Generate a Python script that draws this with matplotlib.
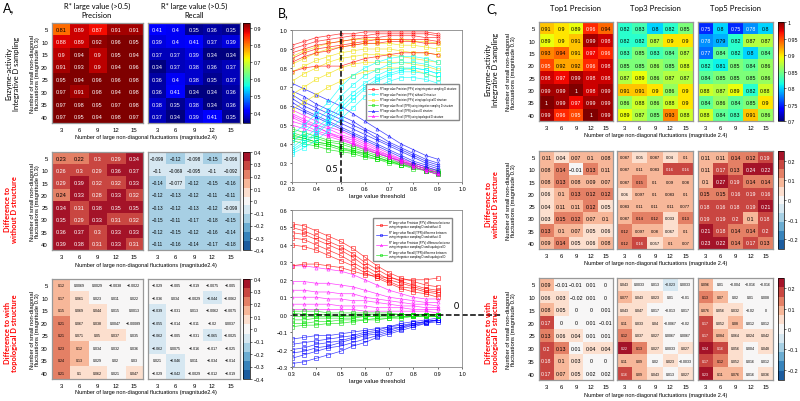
import numpy as np
import matplotlib
matplotlib.use("Agg")
import matplotlib.pyplot as plt
from matplotlib.colors import ListedColormap, Normalize
from matplotlib.lines import Line2D
import seaborn as sns

# ---------------- data ----------------
rows = [5, 10, 15, 20, 25, 30, 35, 40]
cols = [3, 6, 9, 12, 15]

# panel A, integrative D sampling
a_prec = [[0.81, 0.89, 0.87, 0.91, 0.91],
          [0.88, 0.89, 0.92, 0.96, 0.95],
          [0.9, 0.94, 0.9, 0.95, 0.94],
          [0.91, 0.93, 0.9, 0.94, 0.96],
          [0.95, 0.94, 0.96, 0.96, 0.98],
          [0.97, 0.91, 0.98, 0.94, 0.98],
          [0.97, 0.98, 0.95, 0.97, 0.98],
          [0.97, 0.95, 0.94, 0.98, 0.97]]
a_rec = [[0.41, 0.4, 0.35, 0.36, 0.35],
         [0.39, 0.4, 0.41, 0.37, 0.39],
         [0.37, 0.37, 0.39, 0.34, 0.34],
         [0.34, 0.37, 0.38, 0.36, 0.37],
         [0.36, 0.4, 0.38, 0.35, 0.37],
         [0.36, 0.41, 0.34, 0.34, 0.36],
         [0.38, 0.35, 0.38, 0.34, 0.36],
         [0.37, 0.34, 0.39, 0.41, 0.35]]
# difference to without D structure
a_prec_wo = [[0.23, 0.22, 0.3, 0.29, 0.34],
             [0.26, 0.3, 0.29, 0.36, 0.37],
             [0.29, 0.39, 0.32, 0.32, 0.33],
             [0.24, 0.33, 0.28, 0.33, 0.32],
             [0.34, 0.31, 0.38, 0.35, 0.35],
             [0.35, 0.29, 0.33, 0.31, 0.32],
             [0.36, 0.37, 0.3, 0.33, 0.33],
             [0.39, 0.38, 0.31, 0.33, 0.31]]
a_rec_wo = [[-0.099, -0.12, -0.098, -0.15, -0.096],
            [-0.1, -0.069, -0.095, -0.1, -0.092],
            [-0.14, -0.077, -0.12, -0.15, -0.16],
            [-0.12, -0.13, -0.12, -0.11, -0.11],
            [-0.13, -0.12, -0.13, -0.12, -0.099],
            [-0.15, -0.11, -0.17, -0.18, -0.15],
            [-0.12, -0.15, -0.12, -0.16, -0.14],
            [-0.11, -0.16, -0.14, -0.17, -0.18]]
# difference to topological D structure
a_prec_topo = [[0.12, 0.0069, 0.0029, -0.0038, -0.0022],
               [0.17, 0.061, 0.023, 0.011, 0.022],
               [0.15, 0.069, 0.044, 0.015, 0.0013],
               [0.21, 0.067, 0.038, 0.0047, -0.00089],
               [0.21, 0.071, 0.05, 0.037, 0.035],
               [0.23, 0.12, 0.034, 0.032, 0.036],
               [0.24, 0.13, 0.029, 0.02, 0.03],
               [0.21, 0.1, 0.062, 0.021, 0.047]]
a_rec_topo = [[-0.029, -0.005, -0.019, -0.0075, -0.005],
              [-0.036, 0.034, -0.0029, -0.044, -0.0062],
              [-0.039, -0.031, 0.013, -0.0062, -0.0075],
              [-0.055, -0.014, -0.011, -0.02, 0.0037],
              [-0.062, -0.005, -0.031, -0.065, -0.0025],
              [-0.062, 0.0075, -0.016, -0.017, -0.025],
              [0.021, -0.046, 0.011, -0.034, -0.014],
              [-0.029, -0.042, -0.0029, -0.012, -0.019]]

# panel C, top-k precision
c_top1 = [[0.91, 0.9, 0.89, 0.96, 0.94],
          [0.89, 0.9, 0.91, 0.99, 0.98],
          [0.93, 0.94, 0.91, 0.97, 0.96],
          [0.95, 0.92, 0.92, 0.96, 0.98],
          [0.98, 0.97, 0.99, 0.98, 0.98],
          [0.99, 0.99, 1, 0.98, 0.99],
          [1, 0.99, 0.97, 0.99, 0.99],
          [0.99, 0.96, 0.95, 1, 0.99]]
c_top3 = [[0.82, 0.83, 0.8, 0.82, 0.85],
          [0.82, 0.82, 0.87, 0.9, 0.9],
          [0.83, 0.85, 0.83, 0.84, 0.87],
          [0.85, 0.85, 0.86, 0.85, 0.88],
          [0.87, 0.89, 0.86, 0.87, 0.87],
          [0.91, 0.91, 0.9, 0.86, 0.9],
          [0.86, 0.88, 0.86, 0.88, 0.9],
          [0.89, 0.87, 0.85, 0.93, 0.88]]
c_top5 = [[0.75, 0.8, 0.75, 0.78, 0.8],
          [0.78, 0.79, 0.82, 0.87, 0.87],
          [0.77, 0.84, 0.82, 0.8, 0.84],
          [0.82, 0.81, 0.85, 0.84, 0.86],
          [0.84, 0.85, 0.85, 0.85, 0.86],
          [0.88, 0.87, 0.89, 0.82, 0.88],
          [0.84, 0.86, 0.84, 0.85, 0.9],
          [0.88, 0.84, 0.83, 0.91, 0.86]]
c_top1_wo = [[0.11, 0.04, 0.07, 0.1, 0.08],
             [0.08, 0.14, -0.01, 0.13, 0.11],
             [0.08, 0.13, 0.08, 0.09, 0.07],
             [0.06, 0.1, 0.13, 0.12, 0.12],
             [0.04, 0.11, 0.11, 0.12, 0.05],
             [0.03, 0.15, 0.12, 0.07, 0.1],
             [0.13, 0.1, 0.07, 0.05, 0.06],
             [0.09, 0.14, 0.05, 0.06, 0.08]]
c_top3_wo = [[0.087, 0.05, 0.087, 0.04, 0.1],
             [0.087, 0.11, 0.083, 0.16, 0.16],
             [0.087, 0.15, 0.1, 0.09, 0.08],
             [0.06, 0.097, 0.1, 0.083, 0.1],
             [0.083, 0.11, 0.11, 0.11, 0.077],
             [0.087, 0.14, 0.12, 0.033, 0.13],
             [0.12, 0.097, 0.08, 0.067, 0.1],
             [0.12, 0.16, 0.057, 0.1, 0.07]]
c_top5_wo = [[0.11, 0.11, 0.14, 0.12, 0.19],
             [0.11, 0.17, 0.13, 0.24, 0.22],
             [0.1, 0.27, 0.19, 0.14, 0.14],
             [0.15, 0.15, 0.16, 0.19, 0.16],
             [0.18, 0.16, 0.18, 0.19, 0.21],
             [0.19, 0.19, 0.2, 0.1, 0.18],
             [0.21, 0.18, 0.14, 0.14, 0.2],
             [0.23, 0.22, 0.14, 0.17, 0.13]]
c_top1_topo = [[0.09, -0.01, -0.01, 0.01, 0],
               [0.06, 0.03, -0.02, 0.01, 0],
               [0.08, 0.05, 0, 0, 0.01],
               [0.17, 0, 0, 0.01, -0.01],
               [0.13, 0.06, 0.04, 0.01, 0.01],
               [0.2, 0.13, 0.01, 0.04, 0.04],
               [0.18, 0.1, 0.03, 0, 0],
               [0.17, 0.07, 0.05, 0.02, 0.02]]
c_top3_topo = [[0.043, 0.0033, 0.013, -0.023, 0.0033],
               [0.077, 0.043, 0.023, 0.01, -0.01],
               [0.043, 0.047, 0.017, -0.013, 0.017],
               [0.11, 0.033, 0.04, -0.0067, -0.02],
               [0.12, 0.037, 0.027, 0.0067, 0.0067],
               [0.22, 0.13, 0.027, 0.0033, 0.027],
               [0.11, 0.09, 0.02, 0.023, -0.0033],
               [0.16, 0.09, 0.043, 0.013, 0.027]]
c_top5_topo = [[0.096, 0.01, -0.004, -0.016, -0.016],
               [0.13, 0.07, 0.02, 0.01, 0.008],
               [0.076, 0.056, 0.032, -0.02, 0],
               [0.17, 0.052, 0.08, 0.012, 0.012],
               [0.17, 0.084, 0.064, 0.024, 0.042],
               [0.24, 0.16, 0.056, 0.004, 0.048],
               [0.17, 0.12, 0.052, 0.016, 0.012],
               [0.23, 0.11, 0.076, 0.016, 0.036]]

# panel B, representative curves vs large value threshold
thr = [0.3, 0.35, 0.4, 0.45, 0.5, 0.55, 0.6, 0.65, 0.7, 0.75, 0.8, 0.85, 0.9]

ppv_int = [[0.92, 0.94, 0.96, 0.97, 0.98, 0.98, 0.99, 0.99, 0.99, 0.99, 0.99, 0.99, 0.98],
           [0.90, 0.92, 0.94, 0.95, 0.96, 0.97, 0.97, 0.98, 0.98, 0.98, 0.98, 0.98, 0.97],
           [0.88, 0.90, 0.92, 0.93, 0.94, 0.95, 0.96, 0.96, 0.97, 0.97, 0.97, 0.96, 0.96],
           [0.85, 0.88, 0.90, 0.91, 0.92, 0.93, 0.94, 0.95, 0.95, 0.95, 0.95, 0.95, 0.94],
           [0.83, 0.86, 0.88, 0.89, 0.91, 0.92, 0.93, 0.93, 0.94, 0.94, 0.94, 0.93, 0.93],
           [0.78, 0.80, 0.81, 0.81, 0.81, 0.83, 0.85, 0.86, 0.87, 0.88, 0.88, 0.88, 0.87]]
ppv_wo = [[0.45, 0.50, 0.56, 0.62, 0.70, 0.76, 0.80, 0.83, 0.85, 0.86, 0.86, 0.85, 0.83],
          [0.41, 0.46, 0.52, 0.58, 0.65, 0.71, 0.76, 0.79, 0.82, 0.83, 0.83, 0.82, 0.80],
          [0.38, 0.43, 0.48, 0.54, 0.61, 0.67, 0.72, 0.76, 0.79, 0.80, 0.80, 0.79, 0.77],
          [0.36, 0.40, 0.45, 0.51, 0.57, 0.63, 0.69, 0.73, 0.76, 0.78, 0.78, 0.77, 0.75],
          [0.35, 0.38, 0.42, 0.47, 0.53, 0.59, 0.65, 0.70, 0.73, 0.75, 0.75, 0.74, 0.72],
          [0.37, 0.41, 0.46, 0.52, 0.59, 0.65, 0.70, 0.74, 0.77, 0.79, 0.80, 0.79, 0.77]]
ppv_topo = [[0.86, 0.89, 0.91, 0.93, 0.94, 0.95, 0.95, 0.95, 0.95, 0.95, 0.94, 0.94, 0.93],
            [0.82, 0.85, 0.88, 0.90, 0.91, 0.92, 0.93, 0.93, 0.93, 0.92, 0.92, 0.91, 0.90],
            [0.78, 0.81, 0.84, 0.86, 0.88, 0.89, 0.90, 0.90, 0.90, 0.89, 0.88, 0.88, 0.87],
            [0.73, 0.77, 0.80, 0.83, 0.85, 0.86, 0.87, 0.87, 0.87, 0.86, 0.85, 0.84, 0.83],
            [0.66, 0.70, 0.74, 0.77, 0.80, 0.82, 0.83, 0.83, 0.83, 0.83, 0.82, 0.81, 0.79],
            [0.58, 0.62, 0.66, 0.70, 0.73, 0.76, 0.78, 0.79, 0.80, 0.80, 0.79, 0.77, 0.75]]
tpr_int = [[0.48, 0.46, 0.44, 0.42, 0.41, 0.39, 0.37, 0.35, 0.33, 0.31, 0.29, 0.27, 0.26],
           [0.46, 0.44, 0.43, 0.41, 0.40, 0.38, 0.36, 0.34, 0.32, 0.30, 0.29, 0.27, 0.25],
           [0.45, 0.43, 0.41, 0.40, 0.38, 0.37, 0.35, 0.33, 0.31, 0.30, 0.28, 0.26, 0.25],
           [0.43, 0.42, 0.40, 0.39, 0.37, 0.36, 0.34, 0.32, 0.31, 0.29, 0.28, 0.26, 0.24],
           [0.42, 0.40, 0.39, 0.37, 0.36, 0.35, 0.33, 0.32, 0.30, 0.29, 0.27, 0.26, 0.24],
           [0.44, 0.43, 0.41, 0.40, 0.38, 0.36, 0.35, 0.33, 0.31, 0.29, 0.28, 0.26, 0.25]]
tpr_wo = [[0.72, 0.69, 0.66, 0.63, 0.60, 0.56, 0.52, 0.48, 0.44, 0.40, 0.37, 0.34, 0.32],
          [0.68, 0.65, 0.61, 0.58, 0.55, 0.52, 0.48, 0.45, 0.41, 0.38, 0.35, 0.32, 0.30],
          [0.66, 0.62, 0.59, 0.56, 0.53, 0.50, 0.47, 0.43, 0.40, 0.37, 0.34, 0.31, 0.29],
          [0.64, 0.60, 0.57, 0.54, 0.51, 0.48, 0.45, 0.42, 0.39, 0.36, 0.33, 0.30, 0.28],
          [0.62, 0.58, 0.55, 0.52, 0.49, 0.46, 0.43, 0.40, 0.37, 0.34, 0.31, 0.29, 0.27],
          [0.60, 0.57, 0.54, 0.51, 0.48, 0.45, 0.42, 0.39, 0.36, 0.33, 0.30, 0.28, 0.26]]
tpr_topo = [[0.58, 0.55, 0.52, 0.49, 0.47, 0.44, 0.41, 0.38, 0.35, 0.32, 0.30, 0.28, 0.26],
            [0.56, 0.53, 0.50, 0.48, 0.45, 0.43, 0.40, 0.37, 0.34, 0.32, 0.29, 0.27, 0.25],
            [0.54, 0.51, 0.49, 0.46, 0.44, 0.42, 0.39, 0.36, 0.34, 0.31, 0.29, 0.27, 0.25],
            [0.52, 0.50, 0.47, 0.45, 0.43, 0.41, 0.38, 0.36, 0.33, 0.31, 0.28, 0.26, 0.24],
            [0.50, 0.48, 0.46, 0.44, 0.42, 0.40, 0.37, 0.35, 0.33, 0.30, 0.28, 0.26, 0.24],
            [0.55, 0.52, 0.49, 0.46, 0.43, 0.40, 0.38, 0.35, 0.33, 0.31, 0.29, 0.27, 0.25]]

dppv_wo = [[0.52, 0.51, 0.48, 0.45, 0.42, 0.38, 0.33, 0.28, 0.24, 0.21, 0.19, 0.17, 0.16],
           [0.50, 0.48, 0.45, 0.42, 0.39, 0.35, 0.30, 0.26, 0.22, 0.19, 0.17, 0.15, 0.14],
           [0.47, 0.46, 0.43, 0.40, 0.37, 0.33, 0.28, 0.24, 0.20, 0.18, 0.16, 0.14, 0.13],
           [0.44, 0.43, 0.40, 0.37, 0.34, 0.30, 0.26, 0.22, 0.19, 0.16, 0.15, 0.13, 0.12],
           [0.40, 0.39, 0.37, 0.34, 0.31, 0.28, 0.24, 0.21, 0.18, 0.15, 0.13, 0.12, 0.10],
           [0.28, 0.29, 0.29, 0.28, 0.27, 0.25, 0.23, 0.22, 0.21, 0.20, 0.20, 0.20, 0.21]]
dtpr_wo = [[-0.14, -0.13, -0.12, -0.12, -0.11, -0.10, -0.09, -0.08, -0.07, -0.05, -0.04, -0.03, -0.02],
           [-0.17, -0.16, -0.15, -0.14, -0.13, -0.12, -0.10, -0.09, -0.07, -0.06, -0.05, -0.04, -0.03],
           [-0.20, -0.19, -0.17, -0.16, -0.15, -0.13, -0.11, -0.10, -0.08, -0.07, -0.05, -0.04, -0.03],
           [-0.22, -0.21, -0.19, -0.18, -0.16, -0.14, -0.12, -0.11, -0.09, -0.07, -0.06, -0.04, -0.03],
           [-0.25, -0.23, -0.21, -0.19, -0.18, -0.16, -0.14, -0.12, -0.10, -0.08, -0.06, -0.05, -0.03],
           [-0.28, -0.27, -0.25, -0.23, -0.21, -0.18, -0.16, -0.13, -0.11, -0.09, -0.07, -0.05, -0.04]]
dppv_topo = [[0.28, 0.28, 0.27, 0.26, 0.25, 0.23, 0.20, 0.17, 0.14, 0.12, 0.10, 0.09, 0.09],
             [0.19, 0.19, 0.18, 0.18, 0.17, 0.16, 0.14, 0.12, 0.10, 0.09, 0.08, 0.07, 0.07],
             [0.14, 0.14, 0.13, 0.13, 0.12, 0.12, 0.10, 0.09, 0.08, 0.07, 0.06, 0.06, 0.05],
             [0.10, 0.10, 0.10, 0.09, 0.09, 0.08, 0.08, 0.07, 0.06, 0.05, 0.05, 0.04, 0.04],
             [0.06, 0.06, 0.06, 0.06, 0.05, 0.05, 0.05, 0.04, 0.04, 0.04, 0.03, 0.03, 0.03],
             [0.03, 0.03, 0.03, 0.03, 0.03, 0.03, 0.02, 0.02, 0.02, 0.02, 0.02, 0.02, 0.01]]
dtpr_topo = [[0.02, 0.02, 0.02, 0.01, 0.01, 0.01, 0.01, 0.01, 0.01, 0.00, 0.00, 0.00, 0.00],
             [-0.01, -0.01, -0.01, -0.01, -0.01, 0.00, 0.00, 0.00, 0.00, 0.00, 0.00, 0.00, 0.00],
             [-0.03, -0.03, -0.02, -0.02, -0.02, -0.02, -0.01, -0.01, -0.01, -0.01, -0.01, 0.00, -0.01],
             [-0.05, -0.05, -0.04, -0.04, -0.03, -0.03, -0.03, -0.02, -0.02, -0.01, -0.01, -0.01, -0.01],
             [-0.07, -0.06, -0.06, -0.05, -0.05, -0.04, -0.03, -0.03, -0.02, -0.02, -0.01, -0.01, -0.01],
             [0.01, 0.00, 0.00, 0.00, -0.01, -0.01, -0.01, -0.01, 0.00, 0.00, 0.00, 0.00, 0.00]]

# ---------------- figure ----------------
W, H = 800, 402
plt.rcParams['font.family'] = ['Liberation Sans', 'DejaVu Sans']
plt.rcParams['axes.unicode_minus'] = True
fig = plt.figure(figsize=(8, 4.02), dpi=100)
TITLE_FONT = ['Lato', 'DejaVu Sans']


def px_axes(x0, y0, x1, y1):
    # axes from pixel box (top-left origin)
    return fig.add_axes([x0 / W, 1 - y1 / H, (x1 - x0) / W, (y1 - y0) / H])


def px_text(x, y, s, **kw):
    fig.text(x / W, 1 - y / H, s, **kw)


def num(v):
    return '{:g}'.format(v).replace('-', '\u2212')


jet = plt.get_cmap('jet')
div = ListedColormap(sns.color_palette('RdBu_r', 11))


def heat(box, data, cmap, norm, fs, ylabels=True):
    ax = px_axes(*box)
    data = np.array(data)
    ax.imshow(data, cmap=cmap, norm=norm, aspect='auto', interpolation='nearest')
    for i in range(data.shape[0]):
        for j in range(data.shape[1]):
            c = cmap(norm(data[i, j]))
            lum = 0.299 * c[0] + 0.587 * c[1] + 0.114 * c[2]
            ax.text(j, i, num(data[i, j]), ha='center', va='center',
                    fontsize=fs, color='white' if lum < 0.5 else 'black')
    ax.set_xticks(range(len(cols)))
    ax.set_xticklabels(cols, fontsize=4.3)
    ax.set_yticks(range(len(rows)))
    if ylabels:
        ax.set_yticklabels(rows, fontsize=4.3)
    else:
        ax.set_yticklabels([])
    ax.tick_params(length=0, pad=3)
    for s in ax.spines.values():
        s.set_color('#999999')
        s.set_linewidth(0.9)
    return ax


def cbar(box, cmap, norm, ticks):
    cax = px_axes(*box)
    sm = plt.cm.ScalarMappable(cmap=cmap, norm=norm)
    cb = fig.colorbar(sm, cax=cax, ticks=ticks)
    cb.ax.tick_params(labelsize=3.8, length=1.5, width=0.4, pad=1)
    cb.ax.set_yticklabels([num(t) for t in ticks])
    cb.outline.set_linewidth(0.5)


def row_label(x, y, s, red=False):
    px_text(x, y, s, fontsize=5.4, family=TITLE_FONT, ha='center', va='center',
            rotation=90, color='red' if red else 'black',
            fontweight='bold' if red else 'normal', linespacing=1.15)


# panel A
na = Normalize(0.34, 0.93)
nd = Normalize(-0.4, 0.4)
dticks = [-0.4, -0.3, -0.2, -0.1, 0, 0.1, 0.2, 0.3, 0.4]
ya = [(24, 124), (153, 251), (280, 380)]
heat((52, ya[0][0], 143, ya[0][1]), a_prec, jet, na, 4.0)
heat((148, ya[0][0], 240, ya[0][1]), a_rec, jet, na, 4.0, False)
cbar((243, ya[0][0], 250, ya[0][1]), jet, na, [0.4, 0.5, 0.6, 0.7, 0.8, 0.9])
heat((52, ya[1][0], 143, ya[1][1]), a_prec_wo, div, nd, 4.0)
heat((148, ya[1][0], 240, ya[1][1]), a_rec_wo, div, nd, 3.3, False)
cbar((243, ya[1][0], 250, ya[1][1]), div, nd, dticks)
heat((52, ya[2][0], 143, ya[2][1]), a_prec_topo, div, nd, 2.6)
heat((148, ya[2][0], 240, ya[2][1]), a_rec_topo, div, nd, 2.6, False)
cbar((243, ya[2][0], 250, ya[2][1]), div, nd, dticks)

for xm, sub in [(97, 'Precision'), (194, 'Recall')]:
    px_text(xm, 6, 'R* large value (>0.5)', fontsize=5.4, family=TITLE_FONT,
            ha='center', va='center')
    px_text(xm, 16, sub, fontsize=5.4, family=TITLE_FONT, ha='center', va='center')
px_text(3, 8, 'A,', fontsize=9, family=TITLE_FONT, va='center')
for (y0, y1), xl in zip(ya, [137, 265, 393]):
    px_text(146, xl, 'Number of large non-diagonal fluctuations (magnitude2.4)',
            fontsize=4.0, ha='center', va='center')
    px_text(35, (y0 + y1) / 2, 'Number of small non-diagonal\nfluctuations (magnitude 0.3)',
            fontsize=4.2, ha='center', va='center', rotation=90)
row_label(13, 74, 'Enzyme-activity\nIntegrative D sampling')
row_label(11, 210, 'Difference to\nwithout D structure', True)
row_label(11, 333, 'Difference to with\ntopological D structure', True)

# panel C
nc = Normalize(0.7, 1.0)
ncd = Normalize(-0.25, 0.25)
yc = [(23, 122), (152, 250), (279, 381)]
xc = [(539, 613), (617, 693), (698, 773)]
top_sets = [c_top1, c_top3, c_top5]
wo_sets = [c_top1_wo, c_top3_wo, c_top5_wo]
topo_sets = [c_top1_topo, c_top3_topo, c_top5_topo]
wo_fs = [3.8, 3.0, 3.8]
topo_fs = [3.8, 2.5, 2.5]
for k in range(3):
    heat((xc[k][0], yc[0][0], xc[k][1], yc[0][1]), top_sets[k], jet, nc, 3.8, k == 0)
    heat((xc[k][0], yc[1][0], xc[k][1], yc[1][1]), wo_sets[k], div, ncd, wo_fs[k], k == 0)
    heat((xc[k][0], yc[2][0], xc[k][1], yc[2][1]), topo_sets[k], div, ncd, topo_fs[k], k == 0)
cbar((778, yc[0][0], 784, yc[0][1]), jet, nc, [0.7, 0.75, 0.8, 0.85, 0.9, 0.95, 1])
cbar((778, yc[1][0], 784, yc[1][1]), div, ncd, [-0.2, -0.1, 0, 0.1, 0.2])
cbar((778, yc[2][0], 784, yc[2][1]), div, ncd, [-0.2, -0.1, 0, 0.1, 0.2])

for (x0, x1), t in zip(xc, ['Top1 Precision', 'Top3 Precision', 'Top5 Precision']):
    px_text((x0 + x1) / 2, 8, t, fontsize=5.6, family=TITLE_FONT, ha='center', va='center')
px_text(486, 9, 'C,', fontsize=9, family=TITLE_FONT, va='center')
for (y0, y1), xl in zip(yc, [136, 264, 396]):
    px_text(656, xl, 'Number of large non-diagonal fluctuations (magnitude 2.4)',
            fontsize=4.0, ha='center', va='center')
    px_text(511, (y0 + y1) / 2, 'Number of small non-diagonal\nfluctuations (magnitude 0.3)',
            fontsize=4.2, ha='center', va='center', rotation=90)
row_label(492, 70, 'Enzyme-activity\nIntegrative D sampling')
row_label(492, 205, 'Difference to\nwithout D structure', True)
row_label(492, 333, 'Difference to with\ntopological D structure', True)

# panel B
px_text(278, 13, 'B,', fontsize=9, family=TITLE_FONT, va='center')


def lines(ax, groups):
    handles = []
    for data, color, marker, label in groups:
        for ln in data:
            ax.plot(thr, ln, color=color, marker=marker, ms=2.2, lw=0.5,
                    mfc='none', mew=0.5, alpha=0.75)
        handles.append(Line2D([0], [0], color=color, marker=marker, ms=1.6,
                              lw=0.4, mfc='none', mew=0.4, label=label))
    return handles


axb1 = px_axes(292, 31, 462, 183)
h1 = lines(axb1, [
    (tpr_int, '#00e000', 's', 'R* large value Recall (TPR) using integrative sampling D structure'),
    (tpr_topo, 'magenta', '^', 'R* large value Recall (TPR) using topological D structure'),
    (tpr_wo, 'blue', '^', 'R* large value Recall (TPR) without D structure'),
    (ppv_topo, '#f0e000', 's', 'R* large value Precision (PPV) using topological D structure'),
    (ppv_wo, 'cyan', 's', 'R* large value Precision (PPV) without D structure'),
    (ppv_int, 'red', 'o', 'R* large value Precision (PPV) using integrative sampling D structure'),
])
order = [5, 4, 3, 0, 2, 1]
axb1.legend([h1[i] for i in order], [h1[i].get_label() for i in order], fontsize=1.8,
            loc='lower left', bbox_to_anchor=(0.43, 0.40), fancybox=False,
            edgecolor='#888888', framealpha=1, handlelength=4, borderpad=0.8,
            labelspacing=0.6)
axb1.set_xlim(0.3, 1)
axb1.set_ylim(0.2, 1)
axb1.set_xticks([0.3, 0.4, 0.5, 0.6, 0.7, 0.8, 0.9, 1])
axb1.set_yticks([0.2, 0.3, 0.4, 0.5, 0.6, 0.7, 0.8, 0.9, 1])
axb1.axvline(0.5, color='black', ls='--', lw=1.1)
axb1.text(0.49, 0.27, '0.5', fontsize=6.5, family=TITLE_FONT, ha='right', va='center')
axb1.set_xlabel('large value threshold', fontsize=4.3, labelpad=1)

axb2 = px_axes(292, 211, 462, 368)
h2 = lines(axb2, [
    (dtpr_wo, 'blue', 's', 'R* large value Recall (TPR) difference between\nusing integrative sampling D and without D'),
    (dppv_topo, 'magenta', '^', 'R* large value Precision (PPV) difference between\nusing integrative sampling D and topological D'),
    (dtpr_topo, '#00e000', 's', 'R* large value Recall (TPR) difference between\nusing integrative sampling D and topological D'),
    (dppv_wo, 'red', 's', 'R* large value Precision (PPV) difference between\nusing integrative sampling D and without D'),
])
order = [3, 0, 1, 2]
axb2.legend([h2[i] for i in order], [h2[i].get_label() for i in order], fontsize=2.0,
            loc='upper left', bbox_to_anchor=(0.47, 0.96), fancybox=False,
            edgecolor='#888888', framealpha=1, handlelength=4, borderpad=0.8,
            labelspacing=0.5)
axb2.set_xlim(0.3, 1)
axb2.set_ylim(-0.3, 0.6)
axb2.set_xticks([0.3, 0.4, 0.5, 0.6, 0.7, 0.8, 0.9, 1])
axb2.set_yticks([-0.3, -0.2, -0.1, 0, 0.1, 0.2, 0.3, 0.4, 0.5, 0.6])
axb2.plot([0.3, 1.16], [0, 0], color='black', ls='--', lw=1.1, clip_on=False)
axb2.text(0.975, 0.055, '0', fontsize=6.5, family=TITLE_FONT, ha='center', va='center')
axb2.set_xlabel('large value threshold', fontsize=4.3, labelpad=1)

for ax in (axb1, axb2):
    ax.tick_params(labelsize=4, length=1.5, width=0.4, pad=1.5)
    for s in ax.spines.values():
        s.set_color('#888888')
        s.set_linewidth(0.6)

fig.savefig('out.png', dpi=100)
